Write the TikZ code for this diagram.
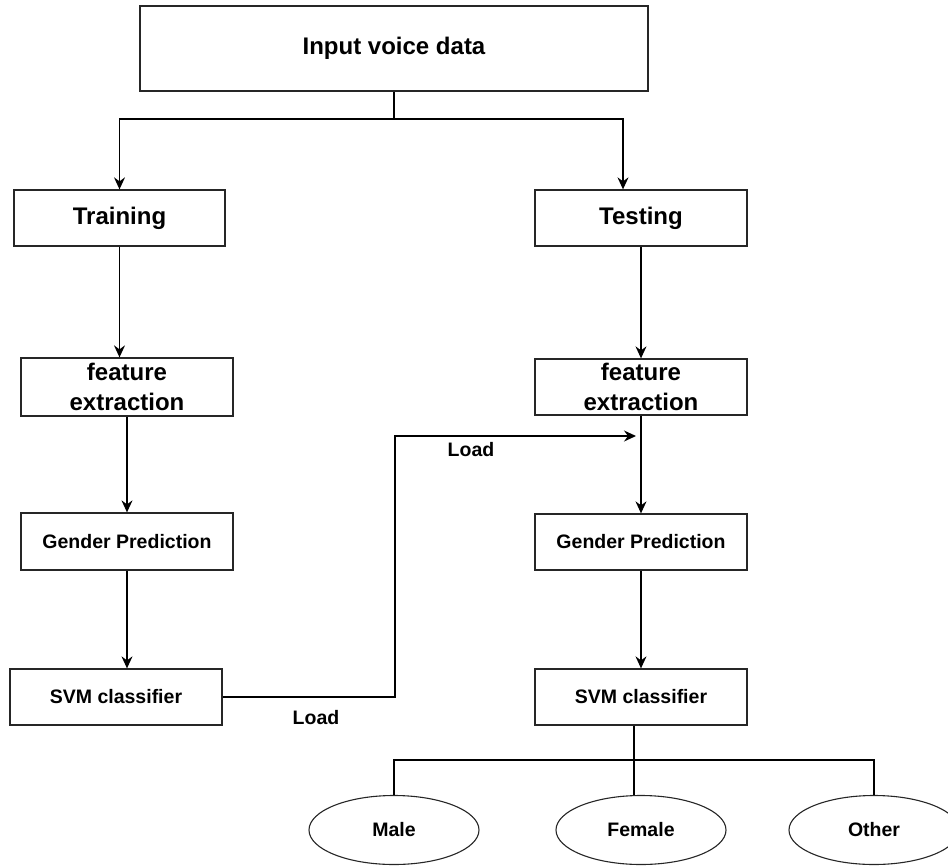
\documentclass[tikz,border=0pt]{standalone}
\usepackage{fontspec}
\setmainfont{Liberation Sans}
\usetikzlibrary{arrows.meta}
\usetikzlibrary{shapes.geometric}
\tikzstyle{bigtext}=[font=\fontsize{24}{30}\selectfont\bfseries]
\tikzstyle{smalltext}=[font=\fontsize{19.5}{24}\selectfont\bfseries]
\tikzstyle{stepbox}=[draw=black!85,line width=1.3pt,inner sep=0pt,minimum width=212,minimum height=56,align=center]
\tikzstyle{outcome}=[draw=black!85,ellipse,line width=1.1pt,inner sep=0pt,minimum width=170,minimum height=69,smalltext]
\tikzstyle{flow}=[-{Stealth[length=12pt,width=11pt,inset=4pt]},line width=1.3pt]
\tikzstyle{tree}=[line width=2.2pt]

\begin{document}
\begin{tikzpicture}[x=1pt,y=-1pt]
  \useasboundingbox (0,0) rectangle (948,865);
  \def\xL{127}
  \def\xR{641}

  % top
  \node[stepbox,bigtext,minimum width=508,minimum height=85] (input) at (394,48.5) {Input voice data};
  \coordinate (split) at (394,119);

  % training side
  \node[stepbox,bigtext,minimum width=211] (train) at (119.5,218) {Training};
  \node[stepbox,bigtext,minimum height=58] (featL) at (\xL,387) {feature\\extraction};
  \node[stepbox,smalltext,minimum height=57] (genL) at (\xL,541.5) {Gender Prediction};
  \node[stepbox,smalltext] (svmL) at (116,697) {SVM classifier};

  % testing side
  \node[stepbox,bigtext] (test) at (\xR,218) {Testing};
  \node[stepbox,bigtext] (featR) at (\xR,387) {feature\\extraction};
  \node[stepbox,smalltext] (genR) at (\xR,542) {Gender Prediction};
  \node[stepbox,smalltext] (svmR) at (\xR,697) {SVM classifier};

  % outcomes
  \node[outcome] (male) at (394,830) {Male};
  \node[outcome] (female) at (\xR,830) {Female};
  \node[outcome] (other) at (874,830) {Other};
  \coordinate (hub) at (634,760);

  \node[smalltext] (load1) at (316,718) {Load};
  \node[smalltext] (load2) at (471,450) {Load};
  \coordinate (ldend) at (636,436);

  \draw[line width=1.3pt] (input.south) -- (split);
  \draw[flow] (split) -| (train.north);
  \draw[flow] (split) -| ([xshift=-18pt]test.north);

  \draw[flow] (train.south) -- (train.south |- featL.north);
  \draw[flow] (featL.south) -- (genL.north);
  \draw[flow] (genL.south) -- (genL.south |- svmL.north);

  \draw[flow] (test.south) -- (featR.north);
  \draw[flow] (featR.south) -- (genR.north);
  \draw[flow] (genR.south) -- (svmR.north);

  \draw[flow] (svmL.east) -- (395,697) |- (ldend);

  \draw[tree] ([xshift=-7pt]svmR.south) -- (hub);
  \draw[tree] (male.north) |- (hub) -| (other.north);
  \draw[tree] (hub) -- (hub |- female.north);
\end{tikzpicture}
\end{document}
